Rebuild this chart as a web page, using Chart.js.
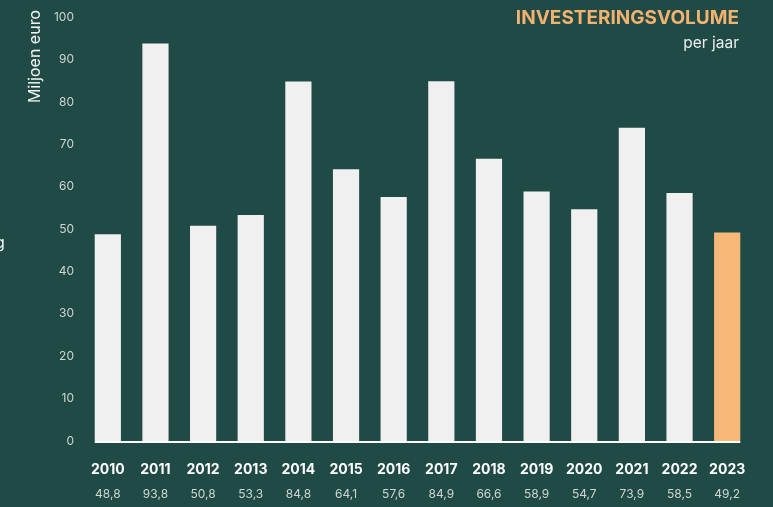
<!DOCTYPE html>
<html>
<head>
<meta charset="utf-8">
<script src="https://cdn.jsdelivr.net/npm/chart.js@4"></script>
<style>
	body { margin: 0; background: #204a45; }
	#wrap { width: 773px; height: 507px; }
</style>
</head>
<body>
<div id="wrap"><canvas id="volumeChart"></canvas></div>
<script>
const jaren = ['2010', '2011', '2012', '2013', '2014', '2015', '2016', '2017', '2018', '2019', '2020', '2021', '2022', '2023'];
const volumes = [48.8, 93.8, 50.8, 53.3, 84.8, 64.1, 57.6, 84.9, 66.6, 58.9, 54.7, 73.9, 58.5, 49.2];
const volumeLabels = ['48,8', '93,8', '50,8', '53,3', '84,8', '64,1', '57,6', '84,9', '66,6', '58,9', '54,7', '73,9', '58,5', '49,2'];
const yMin = 0, yMax = 100, yStap = 10;

const achtergrond = '#204a45';
const balkKleur = '#f0f0f0';
const accentKleur = '#f8b877';

// titel, as-titel en basislijn tekenen
const extraTekst = {
	id: 'extraTekst',
	beforeDraw(chart) {
		const ctx = chart.ctx;
		ctx.save();
		ctx.fillStyle = achtergrond;
		ctx.fillRect(0, 0, chart.width, chart.height);
		ctx.restore();
	},
	afterDraw(chart) {
		const ctx = chart.ctx;
		const bars = chart.getDatasetMeta(0).data;
		const onder = chart.scales.y.getPixelForValue(0);
		ctx.save();
		// basislijn
		ctx.strokeStyle = '#ffffff';
		ctx.lineWidth = 2;
		ctx.beginPath();
		ctx.moveTo(bars[0].x - bars[0].width / 2, onder + 1);
		ctx.lineTo(bars[bars.length - 1].x + bars[bars.length - 1].width / 2, onder + 1);
		ctx.stroke();
		// titel
		ctx.textAlign = 'right';
		ctx.textBaseline = 'middle';
		ctx.fillStyle = '#f5b26e';
		ctx.font = 'bold 19px Inter';
		ctx.fillText('INVESTERINGSVOLUME', 739, 18);
		ctx.fillStyle = '#e9eeec';
		ctx.font = '15.5px Inter';
		ctx.fillText('per jaar', 739, 43);
		// y-as titel
		ctx.translate(35, 10);
		ctx.rotate(-Math.PI / 2);
		ctx.textAlign = 'right';
		ctx.fillStyle = '#f2f4f3';
		ctx.font = '16px Inter';
		ctx.fillText('Miljoen euro', 0, 0);
		ctx.restore();
		// afgesneden letter links
		ctx.save();
		ctx.fillStyle = '#f2f4f3';
		ctx.font = '16px Inter';
		ctx.textBaseline = 'middle';
		ctx.fillText('g', -5, 243);
		ctx.restore();
	}
};

new Chart(document.getElementById('volumeChart').getContext('2d'), {
	type: 'bar',
	data: {
		labels: jaren,
		datasets: [{
			data: volumes,
			backgroundColor: jaren.map((j, i) => i === jaren.length - 1 ? accentKleur : balkKleur),
			barPercentage: 0.55,
			categoryPercentage: 1
		}]
	},
	options: {
		responsive: true,
		maintainAspectRatio: false,
		animation: false,
		layout: { padding: { top: 16, right: 22, left: 0, bottom: 0 } },
		plugins: {
			legend: { display: false },
			tooltip: { enabled: false }
		},
		scales: {
			y: {
				min: yMin,
				max: yMax,
				afterFit(scale) { scale.width = 84; },
				grid: { display: false, drawTicks: false },
				border: { display: false },
				ticks: {
					stepSize: yStap,
					padding: 10,
					color: '#cdd6d3',
					font: { family: 'Inter', size: 12 }
				}
			},
			x: {
				weight: 0,
				afterFit(scale) { scale.height = 42; },
				grid: { display: false, drawTicks: false },
				border: { display: false },
				ticks: {
					padding: 20,
					color: '#ffffff',
					font: { family: 'Inter', size: 14, weight: 'bold' }
				}
			},
			x2: {
				type: 'category',
				position: 'bottom',
				weight: 1,
				labels: volumeLabels,
				afterFit(scale) { scale.height = 24; },
				grid: { display: false, drawTicks: false },
				border: { display: false },
				ticks: {
					padding: 4,
					color: '#cdd6d3',
					font: { family: 'Inter', size: 12 }
				}
			}
		}
	},
	plugins: [extraTekst]
});
</script>
</body>
</html>
